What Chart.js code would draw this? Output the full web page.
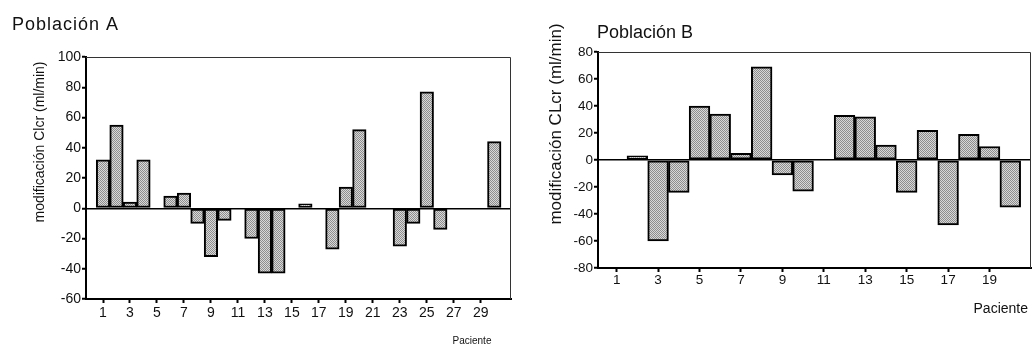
<!DOCTYPE html>
<html>
<head>
<meta charset="utf-8">
<script src="https://cdn.jsdelivr.net/npm/chart.js@4.4.0/dist/chart.umd.min.js"></script>
<style>
  body { margin: 0; background: #fff; }
  #js--a { position: absolute; left: 0; top: 0; }
  #js--b { position: absolute; left: 520px; top: 0; }
</style>
</head>
<body>
<canvas id="js--a" width="520" height="349"></canvas>
<canvas id="js--b" width="512" height="349"></canvas>
<script>
// Población A
const pacientesA = [1,2,3,4,5,6,7,8,9,10,11,12,13,14,15,16,17,18,19,20,21,22,23,24,25,26,27,28,29,30];
const modA = [32,55,4,32,null,8,10,-10,-32,-8,null,-20,-43,-43,null,3,null,-27,14,52,null,null,-25,-10,77,-14,null,null,null,44];
const ticksXA = [1,3,5,7,9,11,13,15,17,19,21,23,25,27,29];
const ticksYA = [-60,-40,-20,0,20,40,60,80,100];

// Población B
const pacientesB = [1,2,3,4,5,6,7,8,9,10,11,12,13,14,15,16,17,18,19,20];
const modB = [null,3,-60,-24,40,34,5,69,-11,-23,null,33,32,11,-24,22,-48,19,10,-35];
const ticksXB = [1,3,5,7,9,11,13,15,17,19];
const ticksYB = [-80,-60,-40,-20,0,20,40,60,80];

const fuente = "'Liberation Sans', Arial, sans-serif";
Chart.defaults.font.family = fuente;
Chart.defaults.color = '#111';

// trama gris tipo semitono
function trama(ctx) {
    const c = document.createElement('canvas');
    c.width = 2; c.height = 2;
    const g = c.getContext('2d');
    g.fillStyle = '#d8d8d8'; g.fillRect(0, 0, 2, 2);
    g.fillStyle = '#8e8e8e'; g.fillRect(0, 0, 1, 1); g.fillRect(1, 1, 1, 1);
    return ctx.createPattern(c, 'repeat');
}

// marco fino arriba y a la derecha
const marco = {
    id: 'marco',
    beforeDatasetsDraw(chart) {
        const {ctx, chartArea: a} = chart;
        ctx.save();
        ctx.strokeStyle = '#333';
        ctx.lineWidth = 1;
        ctx.beginPath();
        ctx.moveTo(a.left, a.top + 0.5);
        ctx.lineTo(a.right - 0.5, a.top + 0.5);
        ctx.lineTo(a.right - 0.5, a.bottom);
        ctx.stroke();
        ctx.restore();
    }
};

// textos sueltos: título, eje y, "Paciente"
const textos = {
    id: 'textos',
    afterDraw(chart, args, opts) {
        const ctx = chart.ctx;
        opts.items.forEach(t => {
            ctx.save();
            ctx.font = t.font;
            ctx.fillStyle = '#111';
            ctx.letterSpacing = t.spacing || '0px';
            ctx.textAlign = t.align || 'left';
            ctx.textBaseline = 'middle';
            ctx.translate(t.x, t.y);
            if (t.rot) ctx.rotate(-Math.PI / 2);
            ctx.fillText(t.text, 0, 0);
            ctx.restore();
        });
    }
};

function grafico(id, labels, values, cfg) {
    const canvas = document.getElementById(id);
    return new Chart(canvas, {
        type: 'bar',
        data: {
            labels: labels,
            datasets: [{
                data: values,
                backgroundColor: trama(canvas.getContext('2d')),
                borderColor: '#000',
                borderWidth: 2,
                borderSkipped: false,
                barPercentage: 1,
                categoryPercentage: 1
            }]
        },
        options: {
            responsive: false,
            animation: false,
            layout: { padding: cfg.padding },
            plugins: {
                legend: { display: false },
                tooltip: { enabled: false },
                textos: { items: cfg.textos }
            },
            scales: {
                x: {
                    type: 'linear',
                    min: cfg.xMin,
                    max: cfg.xMax,
                    offset: false,
                    afterBuildTicks: s => { s.ticks = cfg.xTicks.map(v => ({value: v})); },
                    afterFit: s => { s.height = cfg.xHeight; },
                    grid: { drawOnChartArea: false, offset: false, tickLength: 4, tickColor: '#000', tickWidth: 2 },
                    border: { display: true, color: '#000', width: 2 },
                    ticks: { autoSkip: false, maxRotation: 0, padding: cfg.xPad, font: { size: cfg.tickSize } }
                },
                y: {
                    min: cfg.yTicks[0],
                    max: cfg.yTicks[cfg.yTicks.length - 1],
                    afterBuildTicks: s => { s.ticks = cfg.yTicks.map(v => ({value: v})); },
                    afterFit: s => { s.width = cfg.yWidth; },
                    grid: {
                        color: c => (c.tick && c.tick.value === 0) ? '#000' : 'rgba(0,0,0,0)',
                        lineWidth: 1.5,
                        tickColor: '#000',
                        tickLength: 4,
                        tickWidth: 2
                    },
                    border: { display: true, color: '#000', width: 2 },
                    ticks: { padding: 1, font: { size: cfg.tickSize } }
                }
            }
        },
        plugins: [marco, textos]
    });
}

grafico('js--a', pacientesA, modA, {
    padding: { top: 57, right: 9, left: 0, bottom: 0 },
    xMin: -0.26, xMax: 31.24, xTicks: ticksXA, yTicks: ticksYA,
    yWidth: 86, xHeight: 50, xPad: 2, tickSize: 14,
    textos: [
        { text: 'Población A', x: 12, y: 25, font: '18px ' + fuente, spacing: '1px' },
        { text: 'modificación Clcr (ml/min)', x: 40, y: 142, font: '14px ' + fuente, rot: true, align: 'center' },
        { text: 'Paciente', x: 472, y: 341, font: '10px ' + fuente, align: 'center' }
    ]
});

grafico('js--b', pacientesB, modB, {
    padding: { top: 52, right: 1, left: 0, bottom: 0 },
    xMin: 0.1, xMax: 21, xTicks: ticksXB, yTicks: ticksYB,
    yWidth: 78, xHeight: 81, xPad: 0, tickSize: 13.5,
    textos: [
        { text: 'Población B', x: 77, y: 33, font: '18px ' + fuente },
        { text: 'modificación CLcr (ml/min)', x: 36, y: 124, font: '17px ' + fuente, rot: true, align: 'center' },
        { text: 'Paciente', x: 508, y: 309, font: '14px ' + fuente, align: 'right' }
    ]
});
</script>
</body>
</html>
